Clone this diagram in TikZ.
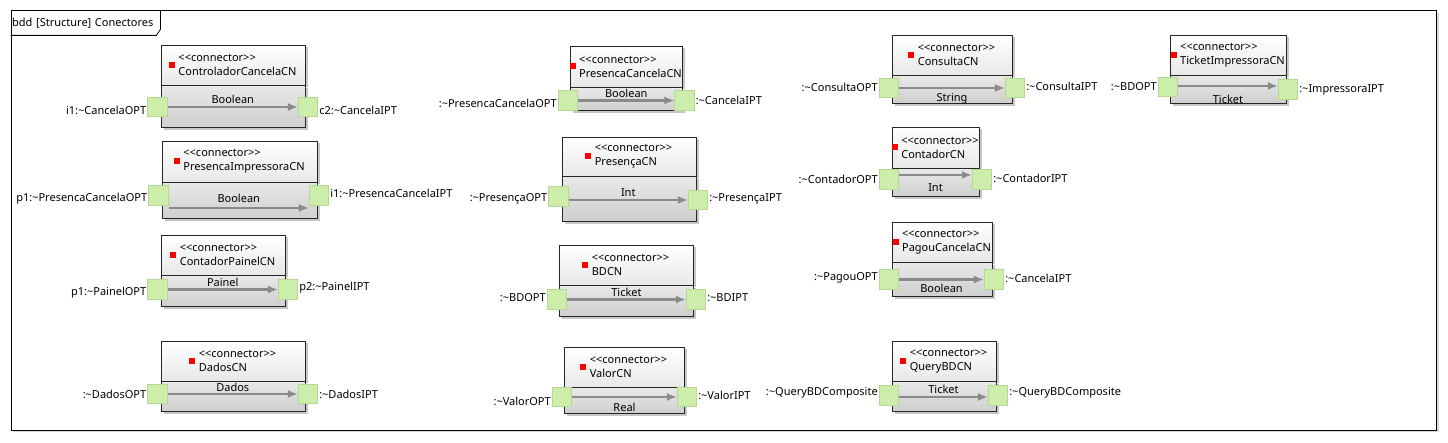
\documentclass[tikz,border=0pt]{standalone}
\usepackage{fontspec}
\setmainfont{Noto Sans}[Ligatures=TeXOff]
\usetikzlibrary{positioning,shadows,arrows.meta}
\definecolor{portgreen}{RGB}{205,237,170}
\definecolor{portedge}{RGB}{182,216,146}
\newcommand{\tild}{\textasciitilde}
\newcommand{\conn}{<<connector>>\\}

\begin{document}
\begin{tikzpicture}[x=1pt,y=-1pt,>={Latex[length=10pt,width=8pt]},font=\fontsize{11}{14}\selectfont,
    box shadow/.style={general shadow={shadow xshift=2.5pt,shadow yshift=-2.5pt,fill=black!22}},
    head node/.style={rectangle,draw=black!85,line width=0.8pt,top color=white,bottom color=black!9,box shadow},
    body node/.style={rectangle,draw=black!85,line width=0.8pt,top color=black!9,bottom color=black!19,box shadow},
    flag dot/.style={fill=red,minimum size=6pt,inner sep=0pt,label distance=3pt},
    title node/.style={align=left,inner sep=0pt,xshift=4.5pt,label={[flag dot]left:}},
    port node/.style={rectangle,fill=portgreen,draw=portedge,line width=0.6pt,minimum size=19.5pt,inner sep=0pt},
    port label/.style={inner sep=1pt},
    type above/.style={midway,above,inner sep=2pt},
    type below/.style={midway,below,inner sep=4.5pt},
    flow/.style={->,draw=black!46,line width=2.3pt}]
    \useasboundingbox (0,0) rectangle (1448,443);

    % frame
    \node[draw,fill=white,line width=0.8pt,minimum width=1425.5pt,minimum height=419pt,anchor=north west,general shadow={shadow xshift=2.5pt,shadow yshift=-2.5pt,fill=black!15}] (frame) at (10.5,10.5) {};
    \node[anchor=north west,minimum height=24.5pt,inner xsep=1.5pt,text width=146.5pt,align=left] (tab) at (10.5,10.5) {bdd [Structure] Conectores};
    \draw[line width=0.8pt] (tab.south west) -- ([xshift=-4pt]tab.south east) -- ([yshift=6pt]tab.south east) -- (tab.north east);

    % ControladorCancelaCN
    \node[head node,minimum width=144pt,minimum height=40pt] (1) at (233,65) {};
    \node[body node,minimum width=144pt,minimum height=42pt,below=0pt of 1] (1b) {};
    \node[title node] at (1) {\conn ControladorCancelaCN};
    \node[port node] (1l) at (157.5,107) {};
    \node[port node] (1r) at (308,107) {};
    \node[port label,left=0pt of 1l,yshift=-3pt] {i1:\tild CancelaOPT};
    \node[port label,right=0pt of 1r,yshift=-3pt] {c2:\tild CancelaIPT};
    \draw[flow] (1l) -- (1r) node[type above] {Boolean};

    % PresencaImpressoraCN
    \node[head node,minimum width=155pt,minimum height=41pt] (2) at (239.5,161.5) {};
    \node[body node,minimum width=155pt,minimum height=36pt,below=0pt of 2] (2b) {};
    \node[title node] at (2) {\conn PresencaImpressoraCN};
    \node[port node] (2l) at (158.5,195.5) {};
    \node[port node] (2r) at (319,195.5) {};
    \node[port label,left=0pt of 2l,yshift=-3pt] {p1:\tild PresencaCancelaOPT};
    \node[port label,right=0pt of 2r,yshift=2pt] {i1:\tild PresencaCancelaIPT};
    \draw[flow] ([yshift=-12.5pt]2l.east) -- ([yshift=-12.5pt]2r.west) node[type above,yshift=2pt] {Boolean};

    % ContadorPainelCN
    \node[head node,minimum width=124pt,minimum height=40pt] (3) at (223,255) {};
    \node[body node,minimum width=124pt,minimum height=31pt,below=0pt of 3] (3b) {};
    \node[title node] at (3) {\conn ContadorPainelCN};
    \node[port node] (3l) at (157.5,289.5) {};
    \node[port node] (3r) at (288,289.5) {};
    \node[port label,left=0pt of 3l,yshift=-3pt] {p1:\tild PainelOPT};
    \node[port label,right=0pt of 3r,yshift=1.5pt] {p2:\tild PainelIPT};
    \draw[flow] (3l) -- (3r) node[type above] {Painel};

    % DadosCN
    \node[head node,minimum width=144pt,minimum height=40pt] (4) at (233,361) {};
    \node[body node,minimum width=144pt,minimum height=30pt,below=0pt of 4] (4b) {};
    \node[title node] at (4) {\conn DadosCN};
    \node[port node] (4l) at (157.5,394) {};
    \node[port node] (4r) at (308,394) {};
    \node[port label,left=0pt of 4l] {:\tild DadosOPT};
    \node[port label,right=0pt of 4r] {:\tild DadosIPT};
    \draw[flow] (4l) -- (4r) node[type above,yshift=-1pt] {Dados};

    % PresencaCancelaCN
    \node[head node,minimum width=112pt,minimum height=41pt] (5) at (626,66.5) {};
    \node[body node,minimum width=112pt,minimum height=23pt,below=0pt of 5] (5b) {};
    \node[title node] at (5) {\conn PresencaCancelaCN};
    \node[port node] (5l) at (568,100.5) {};
    \node[port node] (5r) at (684.5,100.5) {};
    \node[port label,left=0pt of 5l,yshift=-2.5pt] {:\tild PresencaCancelaOPT};
    \node[port label,right=0pt of 5r] {:\tild CancelaIPT};
    \draw[flow] (5l) -- (5r) node[type above] {Boolean};

    % PresençaCN
    \node[head node,minimum width=134pt,minimum height=39pt] (6) at (629,156.5) {};
    \node[body node,minimum width=134pt,minimum height=45pt,below=0pt of 6] (6b) {};
    \node[title node] at (6) {\conn PresençaCN};
    \node[port node] (6l) at (558.5,196.5) {};
    \node[port node] (6r) at (698,200) {};
    \node[port label,left=0pt of 6l,yshift=-2.5pt] {:\tild PresençaOPT};
    \node[port label,right=0pt of 6r,yshift=1pt] {:\tild PresençaIPT};
    \draw[flow] ([yshift=-3.5pt]6l.east) -- (6r.west) node[type above] {Int};

    % BDCN
    \node[head node,minimum width=134pt,minimum height=40pt] (7) at (626,265) {};
    \node[body node,minimum width=134pt,minimum height=31pt,below=0pt of 7] (7b) {};
    \node[title node] at (7) {\conn BDCN};
    \node[port node] (7l) at (557,299.5) {};
    \node[port node] (7r) at (696,299.5) {};
    \node[port label,left=0pt of 7l,yshift=1.5pt] {:\tild BDOPT};
    \node[port label,right=0pt of 7r,yshift=1.5pt] {:\tild BDIPT};
    \draw[flow] (7l) -- (7r) node[type above] {Ticket};

    % ValorCN
    \node[head node,minimum width=120pt,minimum height=40pt] (8) at (624,367) {};
    \node[body node,minimum width=120pt,minimum height=26pt,below=0pt of 8] (8b) {};
    \node[title node] at (8) {\conn ValorCN};
    \node[port node] (8l) at (562,397) {};
    \node[port node] (8r) at (687,397) {};
    \node[port label,left=0pt of 8l,yshift=-4pt] {:\tild ValorOPT};
    \node[port label,right=0pt of 8r,yshift=2pt] {:\tild ValorIPT};
    \draw[flow] (8l) -- (8r) node[type below] {Real};

    % ConsultaCN
    \node[head node,minimum width=120pt,minimum height=40pt] (9) at (952,55) {};
    \node[body node,minimum width=120pt,minimum height=28pt,below=0pt of 9] (9b) {};
    \node[title node] at (9) {\conn ConsultaCN};
    \node[port node] (9l) at (889,88) {};
    \node[port node] (9r) at (1015,88) {};
    \node[port label,left=0pt of 9l,yshift=1pt] {:\tild ConsultaOPT};
    \node[port label,right=0pt of 9r,yshift=2pt] {:\tild ConsultaIPT};
    \draw[flow] (9l) -- (9r) node[type below] {String};

    % ContadorCN
    \node[head node,minimum width=87pt,minimum height=41pt] (10) at (935.5,147.5) {};
    \node[body node,minimum width=87pt,minimum height=28pt,below=0pt of 10] (10b) {};
    \node[title node] at (10) {\conn ContadorCN};
    \node[port node] (10l) at (889,179.5) {};
    \node[port node] (10r) at (982,179.5) {};
    \node[port label,left=0pt of 10l] {:\tild ContadorOPT};
    \node[port label,right=0pt of 10r,yshift=1.5pt] {:\tild ContadorIPT};
    \draw[flow] ([yshift=4.5pt]10l.east) -- ([yshift=4.5pt]10r.west) node[type below,yshift=-3pt] {Int};

    % PagouCancelaCN
    \node[head node,minimum width=100pt,minimum height=40pt] (11) at (942,242) {};
    \node[body node,minimum width=100pt,minimum height=34pt,below=0pt of 11] (11b) {};
    \node[title node] at (11) {\conn PagouCancelaCN};
    \node[port node] (11l) at (889,279.5) {};
    \node[port node] (11r) at (994,279.5) {};
    \node[port label,left=0pt of 11l,yshift=1.5pt] {:\tild PagouOPT};
    \node[port label,right=0pt of 11r,yshift=1.5pt] {:\tild CancelaIPT};
    \draw[flow] (11l) -- (11r) node[type below,yshift=1pt] {Boolean};

    % QueryBDCN
    \node[head node,minimum width=104pt,minimum height=40pt] (12) at (944,361) {};
    \node[body node,minimum width=104pt,minimum height=30pt,below=0pt of 12] (12b) {};
    \node[title node] at (12) {\conn QueryBDCN};
    \node[port node] (12l) at (889,395.5) {};
    \node[port node] (12r) at (998,395.5) {};
    \node[port label,left=0pt of 12l,yshift=2.5pt] {:\tild QueryBDComposite};
    \node[port label,right=0pt of 12r,yshift=2.5pt] {:\tild QueryBDComposite};
    \draw[flow] ([yshift=-1.5pt]12l.east) -- ([yshift=-1.5pt]12r.west) node[type above] {Ticket};

    % TicketImpressoraCN
    \node[head node,minimum width=116pt,minimum height=40pt] (13) at (1228,55) {};
    \node[body node,minimum width=116pt,minimum height=28pt,below=0pt of 13] (13b) {};
    \node[title node] at (13) {\conn TicketImpressoraCN};
    \node[port node] (13l) at (1168,87) {};
    \node[port node] (13r) at (1288,89.5) {};
    \node[port label,left=0pt of 13l] {:\tild BDOPT};
    \node[port label,right=0pt of 13r] {:\tild ImpressoraIPT};
    \draw[flow] ([yshift=1pt]13l.east) -- ([yshift=3.5pt]13r.west) node[type below,yshift=-3pt] {Ticket};
\end{tikzpicture}
\end{document}
